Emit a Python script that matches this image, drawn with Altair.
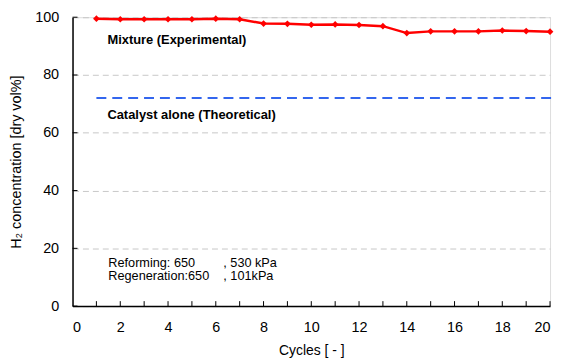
import altair as alt
import pandas as pd

cycles = list(range(1, 21))
h2_mixture = [99.5, 99.3, 99.3, 99.3, 99.3, 99.5, 99.3, 97.8, 97.7, 97.4,
              97.5, 97.3, 96.9, 94.5, 95.1, 95.1, 95.1, 95.4, 95.2, 95.0]
theoretical_value = 72
x_ticks = list(range(0, 21, 2))
x_minor = list(range(1, 21))
y_ticks = [0, 20, 40, 60, 80, 100]

ann_text = ["Mixture (Experimental)", "Catalyst alone (Theoretical)"]
ann_x = [1.46, 1.46]
ann_y = [92.1, 66.0]
note_text = ["Reforming: 650" + "\u00a0" * 8 + ", 530 kPa",
             "Regeneration:650" + "\u00a0" * 4 + ", 101kPa"]
note_x = [1.5, 1.5]
note_y = [14.8, 10.4]

W, H = 481, 291
FONT = "Liberation Sans"

df = pd.DataFrame({"cycle": cycles, "h2": h2_mixture})
df_theo = pd.DataFrame({"cycle": [1, 20.2], "h2": [theoretical_value] * 2})
df_ann = pd.DataFrame({"x": ann_x, "y": ann_y, "t": ann_text})
df_note = pd.DataFrame({"x": note_x, "y": note_y, "t": note_text})
df_xt = pd.DataFrame({"x": x_minor})
df_yt = pd.DataFrame({"y": y_ticks})

xs = alt.Scale(domain=[0, 20], nice=False, zero=False)
ys = alt.Scale(domain=[0, 100], nice=False)

xaxis = alt.Axis(values=x_ticks, ticks=False, grid=False, labelPadding=15,
                 labelFontSize=14.5, labelFont=FONT, labelColor="#000",
                 domainColor="#000", domainWidth=1.5,
                 title="Cycles [ - ]", titleFont=FONT, titleFontSize=14,
                 titleFontWeight="normal", titleColor="#000",
                 titleY=45, titleBaseline="middle")
yaxis = alt.Axis(values=y_ticks, ticks=False, grid=True, gridDash=[6, 4],
                 gridColor="#c8c8c8", gridWidth=1, labelPadding=14,
                 labelFontSize=14.5, labelFont=FONT, labelColor="#000",
                 domainColor="#000", domainWidth=1.5,
                 title="H\u2082 concentration [dry vol%]", titleFont=FONT,
                 titleFontSize=14.5, titleFontWeight="normal", titleColor="#000",
                 titleX=-56, titleY=H / 2, titleBaseline="middle", titleAlign="center")

base_line = alt.Chart(df).mark_line(color="#ff0000", strokeWidth=2.5).encode(
    x=alt.X("cycle:Q", scale=xs, axis=xaxis),
    y=alt.Y("h2:Q", scale=ys, axis=yaxis),
)
pts = alt.Chart(df).mark_point(shape="diamond", filled=True, size=45,
                               color="#ff0000", opacity=1).encode(
    x=alt.X("cycle:Q", scale=xs), y=alt.Y("h2:Q", scale=ys))

theo = alt.Chart(df_theo).mark_line(color="#3366ee", strokeWidth=2,
                                    strokeDash=[10, 6]).encode(
    x=alt.X("cycle:Q", scale=xs), y=alt.Y("h2:Q", scale=ys))

ann = alt.Chart(df_ann).mark_text(align="left", baseline="middle", font=FONT,
                                  fontSize=13, fontWeight="bold", color="#000").encode(
    x=alt.X("x:Q", scale=xs), y=alt.Y("y:Q", scale=ys), text="t:N")
note = alt.Chart(df_note).mark_text(align="left", baseline="middle", font=FONT,
                                    fontSize=12.8, color="#000").encode(
    x=alt.X("x:Q", scale=xs), y=alt.Y("y:Q", scale=ys), text="t:N")

xt = alt.Chart(df_xt).mark_rule(color="#000", strokeWidth=1).encode(
    x=alt.X("x:Q", scale=xs), y=alt.value(H), y2=alt.value(H - 5))
yt = alt.Chart(df_yt).mark_rule(color="#000", strokeWidth=1).encode(
    y=alt.Y("y:Q", scale=ys), x=alt.value(0), x2=alt.value(5))

chart = alt.layer(base_line, theo, pts, ann, note, xt, yt).properties(
    width=W, height=H,
    autosize=alt.AutoSizeParams(type="none"),
    padding={"left": 65, "top": 8, "right": 6, "bottom": 53},
).configure_view(stroke="#000", strokeWidth=1.5).configure(background="white")

chart.save("out.html", embed_options={"renderer": "svg", "actions": False})
